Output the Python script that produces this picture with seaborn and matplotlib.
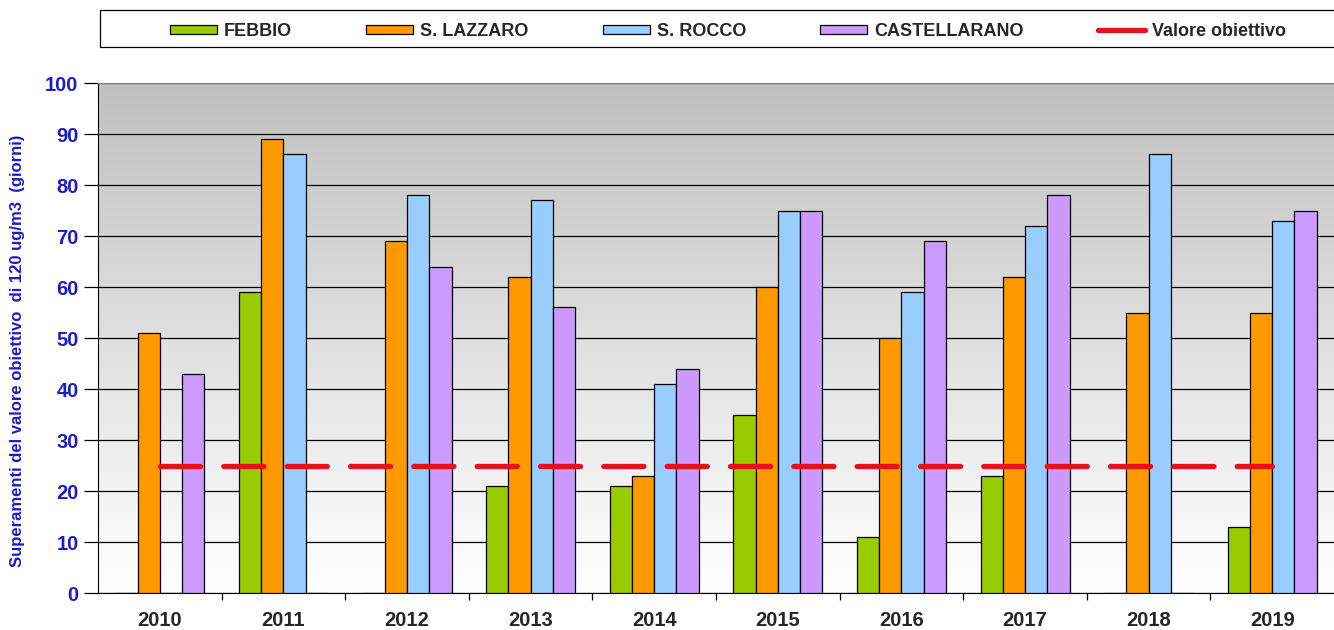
import numpy as np
import pandas as pd
import matplotlib
matplotlib.use("Agg")
import matplotlib.pyplot as plt
import seaborn as sns
from matplotlib.patches import Patch, Rectangle
from matplotlib.lines import Line2D

# dati
anni = ["2010", "2011", "2012", "2013", "2014", "2015", "2016", "2017", "2018", "2019"]
febbio = [0, 59, 0, 21, 21, 35, 11, 23, 0, 13]
s_lazzaro = [51, 89, 69, 62, 23, 60, 50, 62, 55, 55]
s_rocco = [0, 86, 78, 77, 41, 75, 59, 72, 86, 73]
castellarano = [43, 0, 64, 56, 44, 75, 69, 78, 0, 75]
obiettivo = [25] * len(anni)

stazioni = ["FEBBIO", "S. LAZZARO", "S. ROCCO", "CASTELLARANO"]
colori = {"FEBBIO": "#99cc00", "S. LAZZARO": "#ff9900",
          "S. ROCCO": "#99ccff", "CASTELLARANO": "#cc99ff"}
rosso = "#e8101a"
blu = "#1c1cc8"

df = pd.DataFrame({"anno": anni, "FEBBIO": febbio, "S. LAZZARO": s_lazzaro,
                   "S. ROCCO": s_rocco, "CASTELLARANO": castellarano})
df = df.melt(id_vars="anno", var_name="stazione", value_name="giorni")

sns.set_style("white")
plt.rcParams["font.family"] = ["Liberation Sans", "DejaVu Sans"]

fig = plt.figure(figsize=(13.34, 6.3), dpi=100)
ax = fig.add_axes([0.0735, 0.0587, 0.9265, 0.8095])

# sfondo sfumato grigio -> bianco
grad = np.linspace(0, 1, 256).reshape(-1, 1)
cmap = matplotlib.colors.LinearSegmentedColormap.from_list("g", ["#ffffff", "#c0c0c0"])
ax.imshow(grad, extent=[-0.5, 9.5, 0, 100], origin="lower", aspect="auto",
          cmap=cmap, zorder=0)

sns.barplot(data=df, x="anno", y="giorni", hue="stazione", hue_order=stazioni,
            palette=colori, edgecolor="black", linewidth=0.9, width=0.72,
            saturation=1, ax=ax, zorder=3, legend=False)

ax.plot(range(len(anni)), obiettivo, color=rosso, linewidth=3.8,
        dashes=(7.6, 4.4), dash_capstyle="round", zorder=5)

ax.set_xlim(-0.5, 9.5)
ax.set_ylim(0, 100)
ax.set_yticks(range(0, 101, 10))
ax.yaxis.grid(True, color="black", linewidth=0.9, zorder=1)
ax.set_axisbelow(True)

ax.spines["right"].set_visible(False)
ax.spines["top"].set_color("#808080")
ax.spines["top"].set_linewidth(0.8)
ax.spines["left"].set_color("black")
ax.spines["bottom"].set_color("black")

ax.tick_params(axis="y", direction="out", length=10, width=0.9, color="black",
               labelsize=14.5, labelcolor=blu, pad=4, left=True)
for t in ax.get_yticklabels():
    t.set_fontweight("bold")

ax.set_xticks(np.arange(0.5, 9.5, 1), minor=True)
ax.tick_params(axis="x", which="major", length=0, pad=13, labelsize=14.5)
ax.tick_params(axis="x", which="minor", direction="out", length=5, width=0.9,
               color="black", bottom=True)
for t in ax.get_xticklabels():
    t.set_fontweight("bold")
ax.set_xlabel("")

ax.set_ylabel("Superamenti del valore obiettivo  di 120 ug/m3  (giorni)",
              color=blu, fontsize=12, fontweight="bold")
ax.yaxis.set_label_coords(-0.0595, 0.4745)

# riquadro della legenda
fig.add_artist(Rectangle((100 / 1334, 1 - 47 / 630), 1.0, 37 / 630,
                         transform=fig.transFigure, facecolor="white",
                         edgecolor="black", linewidth=0.9))

handles = [Patch(facecolor=colori[s], edgecolor="black", linewidth=0.9) for s in stazioni]
handles.append(Line2D([0], [0], color=rosso, linewidth=3.8, solid_capstyle="round"))
labels = stazioni + ["Valore obiettivo"]
leg = fig.legend(handles, labels, ncol=5, loc="center",
                 bbox_to_anchor=(728 / 1334, 1 - 31.5 / 630), frameon=False,
                 prop={"weight": "bold", "size": 13}, handlelength=2.6,
                 handleheight=0.45, handletextpad=0.4, columnspacing=4.1,
                 borderpad=0, borderaxespad=0)

fig.savefig("out.png", dpi=100)
